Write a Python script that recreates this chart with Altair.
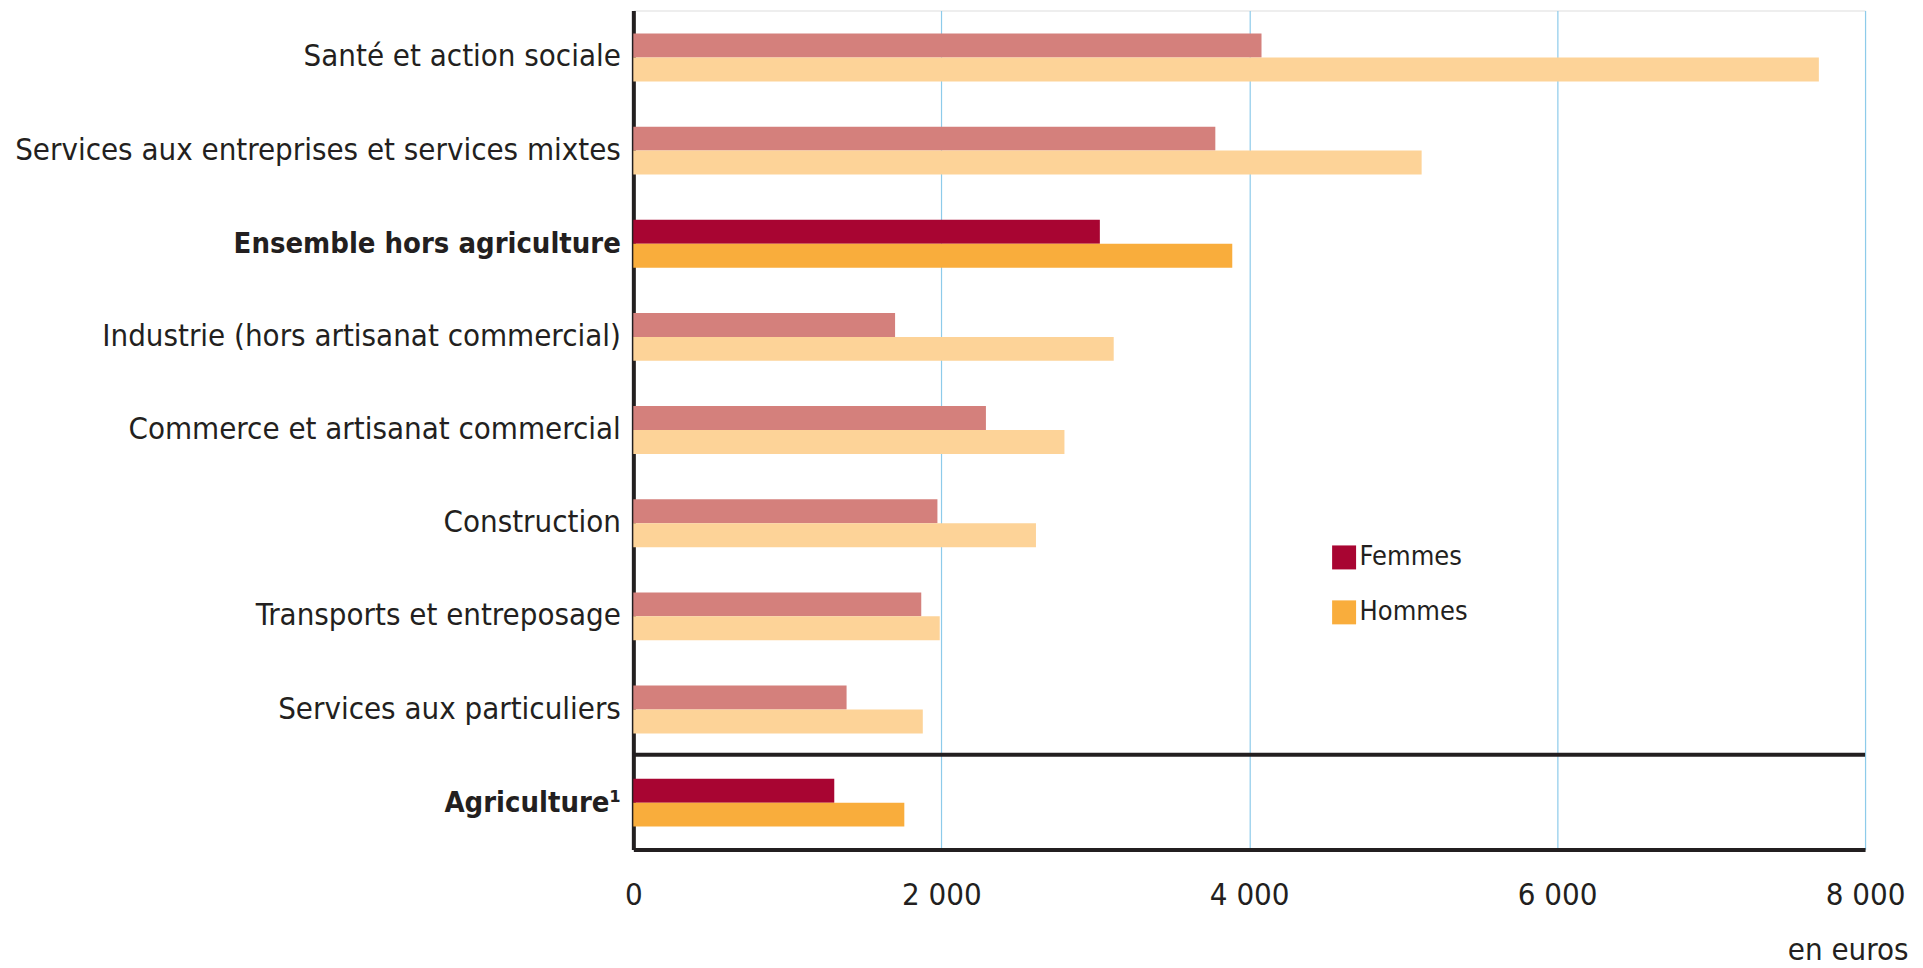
import altair as alt
import pandas as pd

categories = [
    "Santé et action sociale",
    "Services aux entreprises et services mixtes",
    "Ensemble hors agriculture",
    "Industrie (hors artisanat commercial)",
    "Commerce et artisanat commercial",
    "Construction",
    "Transports et entreposage",
    "Services aux particuliers",
    "Agriculture¹",
]
femmes = [4080, 3780, 3030, 1700, 2290, 1975, 1870, 1385, 1305]
hommes = [7700, 5120, 3890, 3120, 2800, 2615, 1990, 1880, 1760]
highlighted = ["Ensemble hors agriculture", "Agriculture¹"]
x_ticks = [0, 2000, 4000, 6000, 8000]

FONT = "DejaVu Sans Condensed"
TXT = "#231f20"

rows = []
for c, f, h in zip(categories, femmes, hommes):
    hl = c in highlighted
    rows.append({"cat": c, "sexe": "Femmes", "val": f,
                 "cle": "Femmes" if hl else "Femmes clair"})
    rows.append({"cat": c, "sexe": "Hommes", "val": h,
                 "cle": "Hommes" if hl else "Hommes clair"})
df = pd.DataFrame(rows)

y_scale = alt.Scale(domain=categories, paddingInner=0.486, paddingOuter=0.247)
x_scale = alt.Scale(domain=[0, 8000], nice=False)

bold_test = " || ".join([f"datum.value == '{c}'" for c in highlighted])

bars = alt.Chart(df).mark_bar().encode(
    x=alt.X("val:Q", scale=x_scale,
            axis=alt.Axis(values=x_ticks, title="en euros",
                          labelExpr="replace(format(datum.value, ','), ',', ' ')",
                          labelFont=FONT, labelFontSize=31, labelColor=TXT,
                          labelPadding=31, ticks=False, labelFlush=False,
                          labelOverlap=False,
                          domainColor="#231f20", domainWidth=4,
                          grid=True, gridColor="#8dcbea", gridWidth=1.2,
                          titleFont=FONT, titleFontSize=31, titleColor=TXT,
                          titleFontWeight="normal", titleAlign="right",
                          titleBaseline="alphabetic", titleX=1276, titleY=110)),
    y=alt.Y("cat:N", scale=y_scale, sort=categories,
            axis=alt.Axis(title=None, labelFont=FONT,
                          labelColor=TXT, labelPadding=13, labelLimit=900,
                          ticks=False, domainColor="#231f20", domainWidth=4,
                          labelFontSize={"condition": {"test": bold_test, "value": 29},
                                         "value": 31},
                          labelFontWeight={"condition": {"test": bold_test, "value": "bold"},
                                           "value": "normal"})),
    yOffset=alt.YOffset("sexe:N", scale=alt.Scale(domain=["Femmes", "Hommes"],
                                                  paddingInner=0, paddingOuter=0)),
    color=alt.Color("cle:N",
                    scale=alt.Scale(domain=["Femmes", "Hommes", "Femmes clair", "Hommes clair"],
                                    range=["#a80532", "#f9ad3c", "#d4807c", "#fdd398"]),
                    legend=alt.Legend(values=["Femmes", "Hommes"], title=None,
                                      orient="none", legendX=698, legendY=534,
                                      symbolType="square", symbolSize=576,
                                      symbolStrokeWidth=0, symbolOpacity=1,
                                      labelFont=FONT, labelFontSize=27,
                                      labelColor=TXT, labelOffset=2,
                                      rowPadding=27, padding=0)),
)

sep_df = pd.DataFrame({"cat": ["Agriculture¹"], "x0": [0], "x1": [8000]})
sep = alt.Chart(sep_df).mark_rule(color="#231f20", strokeWidth=4, yOffset=-48).encode(
    y=alt.Y("cat:N", scale=y_scale, sort=categories),
    x=alt.X("x0:Q", scale=x_scale),
    x2="x1:Q",
)

chart = alt.layer(bars, sep).properties(
    width=1233, height=840,
    autosize=alt.AutoSizeParams(type="none"),
    padding={"left": 626, "top": 2, "right": 50, "bottom": 116},
).configure_view(stroke=None).configure(font=FONT)

chart.save("out.html", embed_options={"renderer": "svg", "actions": False})
